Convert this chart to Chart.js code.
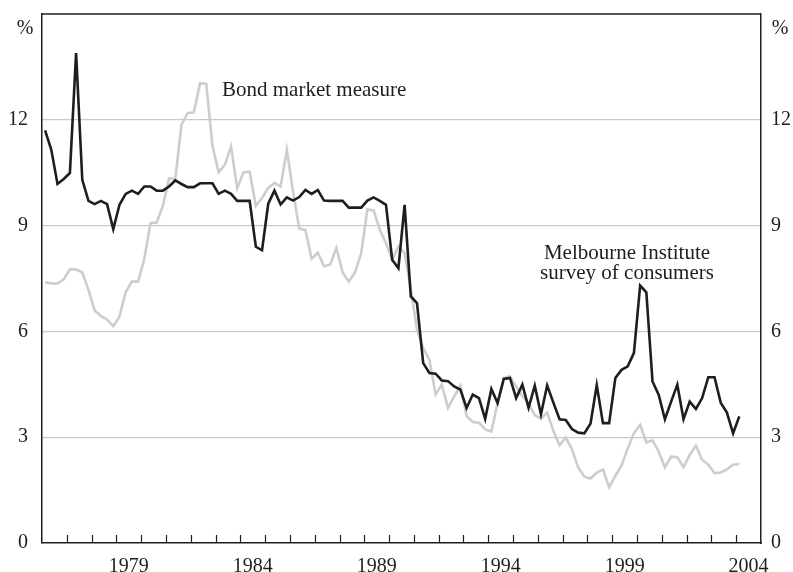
<!DOCTYPE html>
<html>
<head>
<meta charset="utf-8">
<script src="https://cdn.jsdelivr.net/npm/chart.js@4/dist/chart.umd.min.js"></script>
<style>
  html, body { margin: 0; padding: 0; background: #fff; }
  #wrap { width: 793px; height: 572px; }
</style>
</head>
<body>
<div id="wrap"><canvas id="chart"></canvas></div>
<script>
// quarterly, 1976 Q1 to 2004 Q1
const firstYear = 1976;

const melbourne = [
  11.70, 11.15, 10.18, 10.32, 10.49, 13.89, 10.30, 9.70, 9.61, 9.70,
  9.61, 8.90, 9.59, 9.90, 9.99, 9.90, 10.11, 10.11, 9.99, 9.99,
  10.11, 10.28, 10.18, 10.09, 10.09, 10.20, 10.20, 10.20, 9.90, 9.99,
  9.90, 9.70, 9.70, 9.70, 8.40, 8.30, 9.62, 9.99, 9.60, 9.80,
  9.71, 9.81, 10.01, 9.90, 10.01, 9.71, 9.70, 9.70, 9.70, 9.51,
  9.51, 9.51, 9.71, 9.80, 9.70, 9.59, 8.03, 7.79, 9.59, 6.99,
  6.80, 5.10, 4.82, 4.80, 4.61, 4.59, 4.44, 4.35, 3.83, 4.21,
  4.11, 3.52, 4.37, 3.97, 4.65, 4.68, 4.11, 4.49, 3.83, 4.46,
  3.65, 4.47, 3.98, 3.51, 3.49, 3.23, 3.13, 3.11, 3.39, 4.48,
  3.40, 3.40, 4.68, 4.91, 5.01, 5.39, 7.30, 7.11, 4.58, 4.20,
  3.51, 4.01, 4.49, 3.51, 4.01, 3.80, 4.11, 4.70, 4.70, 3.98,
  3.70, 3.11, 3.59
];

const bond = [
  7.39, 7.36, 7.36, 7.48, 7.76, 7.76, 7.67, 7.18, 6.59, 6.44,
  6.34, 6.15, 6.42, 7.11, 7.41, 7.41, 8.05, 9.07, 9.09, 9.56,
  10.34, 10.32, 11.86, 12.19, 12.21, 13.04, 13.02, 11.26, 10.51, 10.72,
  11.24, 10.06, 10.51, 10.53, 9.56, 9.78, 10.07, 10.21, 10.11, 11.15,
  9.97, 8.91, 8.87, 8.06, 8.23, 7.85, 7.90, 8.37, 7.67, 7.41,
  7.67, 8.22, 9.46, 9.43, 8.88, 8.50, 8.03, 8.41, 8.22, 7.20,
  6.05, 5.53, 5.20, 4.21, 4.49, 3.83, 4.16, 4.46, 3.60, 3.43,
  3.41, 3.22, 3.16, 3.97, 4.68, 4.73, 4.44, 4.16, 3.97, 3.62,
  3.53, 3.70, 3.18, 2.77, 2.99, 2.66, 2.14, 1.88, 1.83, 2.00,
  2.08, 1.58, 1.90, 2.20, 2.68, 3.11, 3.35, 2.85, 2.91, 2.59,
  2.15, 2.45, 2.43, 2.15, 2.50, 2.76, 2.36, 2.22, 1.98, 2.00,
  2.09, 2.22, 2.24
];

const yearLabels = [1979, 1984, 1989, 1994, 1999, 2004];
const yTicks = [0, 3, 6, 9, 12];
const xMin = 1976;
const xMax = 2005;
const yMax = 15;

const FONT = "'Liberation Serif', 'Times New Roman', serif";
const INK = "#1e1e1e";
const GRID = "#c9c9c9";

// quarter midpoints as x values
function toPoints(values) {
  return values.map((v, i) => ({ x: firstYear + 0.125 + i * 0.25, y: v }));
}

const framePlugin = {
  id: "frame",
  afterDraw(chart) {
    const { ctx, chartArea, scales } = chart;
    const x = scales.x;
    ctx.save();
    ctx.strokeStyle = INK;
    ctx.lineWidth = 1.5;
    // top border
    ctx.beginPath();
    ctx.moveTo(chartArea.left, chartArea.top);
    ctx.lineTo(chartArea.right, chartArea.top);
    ctx.stroke();
    // year tick marks pointing up into the plot
    ctx.lineWidth = 1.2;
    for (let yr = xMin + 1; yr < xMax; yr++) {
      const px = Math.round(x.getPixelForValue(yr)) + 0.5;
      ctx.beginPath();
      ctx.moveTo(px, chartArea.bottom);
      ctx.lineTo(px, chartArea.bottom - 8);
      ctx.stroke();
    }
    // unit labels
    ctx.fillStyle = INK;
    ctx.font = "20px " + FONT;
    ctx.textAlign = "center";
    ctx.textBaseline = "middle";
    ctx.fillText("%", chartArea.left - 17, chartArea.top + 15);
    ctx.fillText("%", chartArea.right + 19, chartArea.top + 15);
    // series notes
    ctx.font = "21px " + FONT;
    ctx.textBaseline = "alphabetic";
    ctx.textAlign = "left";
    ctx.fillText("Bond market measure", 222, 96);
    ctx.textAlign = "center";
    ctx.fillText("Melbourne Institute", 627, 259);
    ctx.fillText("survey of consumers", 627, 279);
    ctx.restore();
  },
};

const yTickOpts = (pad) => ({
  stepSize: 3,
  padding: pad,
  color: INK,
  font: { family: FONT, size: 20 },
  callback: (v) => (yTicks.includes(v) ? String(v) : ""),
});

function fixWidth(w) {
  return (scale) => {
    scale.width = w;
    scale.paddingTop = 0;
    scale.paddingBottom = 0;
  };
}

new Chart(document.getElementById("chart"), {
  type: "line",
  data: {
    datasets: [
      {
        label: "Melbourne Institute survey of consumers",
        data: toPoints(melbourne),
        borderColor: INK,
        borderWidth: 2.6,
        pointRadius: 0,
        tension: 0,
      },
      {
        label: "Bond market measure",
        data: toPoints(bond),
        borderColor: "#cdcdcd",
        borderWidth: 2.6,
        pointRadius: 0,
        tension: 0,
      },
    ],
  },
  options: {
    responsive: true,
    maintainAspectRatio: false,
    animation: false,
    layout: { padding: { top: 14, left: 0, right: 0, bottom: 0 } },
    plugins: { legend: { display: false }, tooltip: { enabled: false } },
    scales: {
      x: {
        type: "linear",
        min: xMin,
        max: xMax,
        afterBuildTicks: (scale) => {
          scale.ticks = yearLabels.map((yr) => ({ value: yr + 0.5 }));
        },
        afterFit: (scale) => { scale.height = 29; },
        ticks: {
          autoSkip: false,
          maxRotation: 0,
          padding: 4,
          color: INK,
          font: { family: FONT, size: 20 },
          callback: (v) => String(Math.floor(v)),
        },
        grid: { display: false },
        border: { display: true, color: INK, width: 1.5 },
      },
      y: {
        position: "left",
        min: 0,
        max: yMax,
        afterFit: fixWidth(42),
        ticks: yTickOpts(14),
        grid: {
          drawTicks: false,
          lineWidth: 1.2,
          color: (c) => (c.tick.value > 0 && c.tick.value < yMax ? GRID : "rgba(0,0,0,0)"),
        },
        border: { display: true, color: INK, width: 1.5 },
      },
      y2: {
        position: "right",
        min: 0,
        max: yMax,
        afterFit: fixWidth(32),
        ticks: yTickOpts(10),
        grid: { display: false, drawTicks: false },
        border: { display: true, color: INK, width: 1.5 },
      },
    },
  },
  plugins: [framePlugin],
});
</script>
</body>
</html>
